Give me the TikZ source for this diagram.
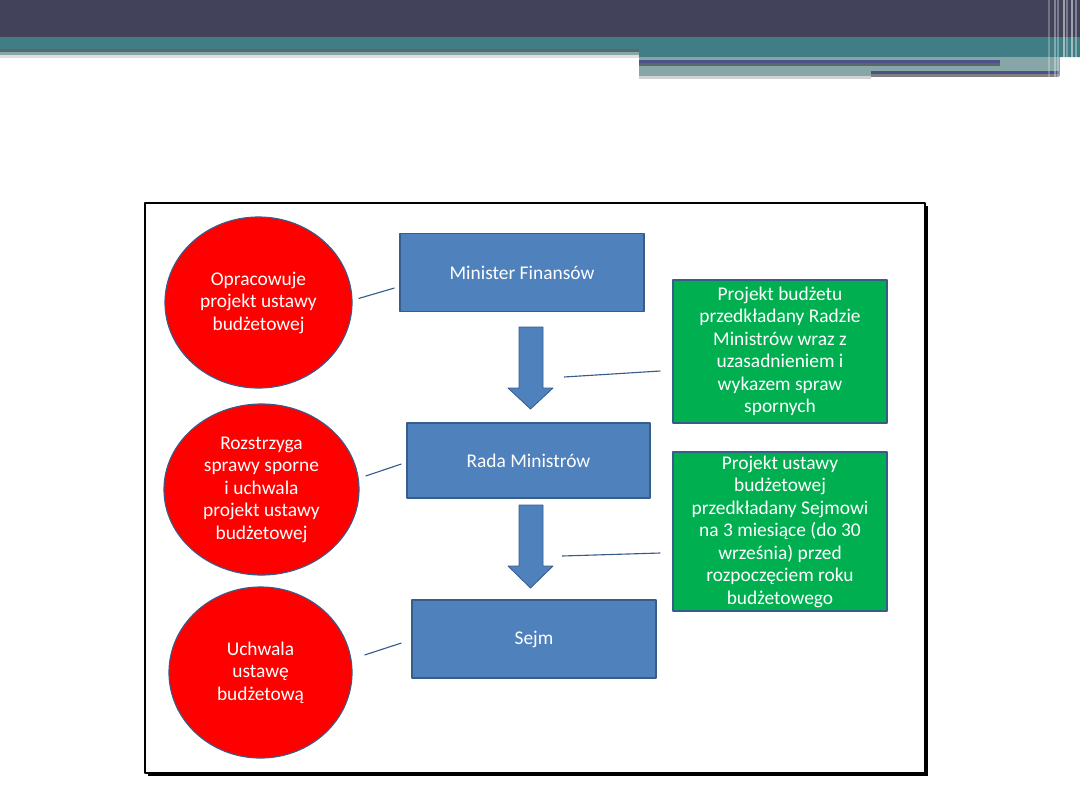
\documentclass[tikz,border=0pt]{standalone}
\usepackage{fontspec}
\setmainfont{Carlito}
\usetikzlibrary{shapes.geometric,calc}

\begin{document}
\begin{tikzpicture}[x=.025cm,y=-.025cm,line join=round]
	\definecolor{ciemny}{HTML}{42435A}
	\definecolor{morski}{HTML}{417D84}
	\definecolor{szaromorski}{HTML}{87A6A8}
	\definecolor{fiolet}{HTML}{4E5088}
	\definecolor{szary}{HTML}{5A6868}
	\definecolor{niebieski}{HTML}{4F81BD}
	\definecolor{obwodka}{HTML}{385D8A}
	\definecolor{zielony}{HTML}{00B050}
	
	\tikzset{
		tekst/.style={text=white,align=center,font=\fontsize{13.8}{16}\selectfont},
		blok/.style={tekst,draw=obwodka,fill=niebieski,line width=.8pt,minimum width=6.1cm,minimum height=1.95cm,inner sep=0pt},
		kolo/.style={tekst,ellipse,draw=obwodka,fill=red,line width=.8pt,inner sep=0pt,minimum height=4.275cm},
		opis/.style={tekst,draw=obwodka,fill=zielony,line width=.8pt,minimum width=5.35cm,inner sep=0pt},
		link/.style={draw=obwodka,line width=.8pt},
		strzalka/.style={fill=niebieski,draw=obwodka,line width=.6pt}
	}
	\useasboundingbox (0,0) rectangle (1080,810);
	
	% naglowek
	\fill[ciemny] (0,0) rectangle (1080,37);
	\fill[morski] (0,37) rectangle (1080,49) (639,49) rectangle (1080,57);
	\fill[szary] (0,49) rectangle (639,52);
	\fill[szaromorski] (0,52) rectangle (639,55);
	\fill[gray!25] (0,55) rectangle (639,58);
	\fill[szaromorski] (639,57) rectangle (1060,76);
	\fill[fiolet] (639,60) rectangle (1000,63);
	\fill[szary] (639,63) rectangle (1000,66);
	\fill[fiolet] (871,71) rectangle (1059,74);
	\fill[gray] (871,74) rectangle (1059,77);
	\fill[gray!35] (639,76) rectangle (871,79);
	\foreach \i/\j in {1048/.25,1054/.35,1057/.3,1063/.5,1066/.3,1071/.5,1075/.35}{
		\fill[white,opacity=\j] (\i,0) rectangle (\i+2,79);
	}
	
	% ramka
	\fill[black] (148,206) rectangle (928,776);
	\draw[black,line width=1.4pt,fill=white] (145,203) rectangle (925,773);
	
	\node[blok] (mf) at (522,272.5) {Minister Finansów};
	\node[blok,minimum width=6.075cm,minimum height=1.875cm] (rm) at (528.5,460.5) {Rada Ministrów};
	\node[blok] (sejm) at (534,639) {Sejm};
	
	\node[kolo,minimum width=4.675cm] (c1) at (258.5,302.5) {Opracowuje\\projekt ustawy\\budżetowej};
	\node[kolo,minimum width=4.875cm] (c2) at (261.5,489.5) {Rozstrzyga\\sprawy sporne\\i uchwala\\projekt ustawy\\budżetowej};
	\node[kolo,minimum width=4.575cm] (c3) at (260.5,672.5) {Uchwala\\ustawę\\budżetową};
	
	\node[opis,minimum height=3.575cm] (g1) at (780,351.5) {Projekt budżetu\\przedkładany Radzie\\Ministrów wraz z\\uzasadnieniem i\\wykazem spraw\\spornych};
	\node[opis,minimum height=3.975cm] (g2) at (780,531.5) {Projekt ustawy\\budżetowej\\przedkładany Sejmowi\\na 3 miesiące (do 30\\września) przed\\rozpoczęciem roku\\budżetowego};
	
	% strzalki
	\foreach \t/\h/\b in {327/388/409,505/566/588}{
		\draw[strzalka] (519,\t) -- (543,\t) -- (543,\h) -- (553,\h) -- (530.5,\b) -- (508,\h) -- (519,\h) -- cycle;
	}
	\coordinate (s1) at (564,377);
	\coordinate (s2) at (562,556);
	
	\draw[link] ($(c1.east)+(6,-4)$) -- ($(mf.west)+(-5,15.5)$);
	\draw[link] ($(c2.east)+(6,-13.5)$) -- ($(rm.west)+(-5,3.5)$);
	\draw[link] ($(c3.east)+(12,-17.5)$) -- ($(sejm.west)+(-10,4)$);
	\draw[link] (s1) -- ($(g1.west)+(-12,19.5)$);
	\draw[link] (s2) -- ($(g2.west)+(-12,21.5)$);
\end{tikzpicture}
\end{document}
